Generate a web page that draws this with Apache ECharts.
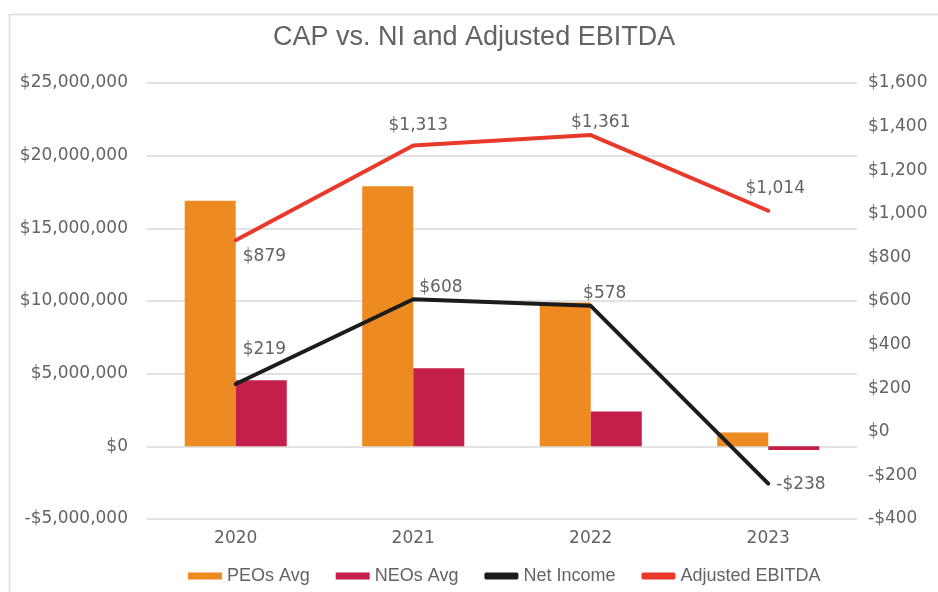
<!DOCTYPE html>
<html>
<head>
<meta charset="utf-8">
<style>
  html, body { margin: 0; padding: 0; background: #ffffff; }
  #chart { width: 938px; height: 592px; }
</style>
<script src="https://cdn.jsdelivr.net/npm/echarts@6/dist/echarts.min.js"></script>
</head>
<body>
<div id="chart"></div>
<script>
// Values.
const years = ['2020', '2021', '2022', '2023'];
const peosAvg = [16900000, 17900000, 9900000, 950000];
const neosAvg = [4550000, 5370000, 2400000, -250000];
const netIncome = [219, 608, 578, -238];
const adjEbitda = [879, 1313, 1361, 1014];

// Where each point label sits relative to its point (style only).
const niLabelPlace = [
  { position: 'right', distance: 5, offset: [1, -34] },
  { position: 'right', distance: 5, offset: [0, -12] },
  { position: 'top', distance: 3, offset: [14, 0] },
  { position: 'right', distance: 5, offset: [2, 1] },
];
const ebitdaLabelPlace = [
  { position: 'right', distance: 5, offset: [1, 16] },
  { position: 'top', distance: 10, offset: [5, 0] },
  { position: 'top', distance: 3, offset: [10, 0] },
  { position: 'top', distance: 13, offset: [7, 0] },
];

const INK = { text: '#636363', grid: '#d9d9d9' };
const COLORS = { peo: '#ee8a22', neo: '#c41e4a', ni: '#1c1c1c', ebitda: '#e8392a' };
const TITLE_FONT = '"Liberation Sans", Arial, sans-serif';
const NUM_FONT = '"DejaVu Sans", sans-serif';

function money(v) {
  return (v < 0 ? '-' : '') + '$' + Math.abs(v).toLocaleString('en-US');
}

function withLabels(values, places) {
  return values.map((v, i) => ({ value: v, label: places[i] }));
}

function barSeries(name, data, color) {
  return {
    name,
    type: 'bar',
    data,
    barGap: '0%',
    barCategoryGap: '42.5%',
    itemStyle: { color },
    emphasis: { disabled: true },
  };
}

function lineSeries(name, data, color) {
  return {
    name,
    type: 'line',
    yAxisIndex: 1,
    data,
    symbol: 'circle',
    symbolSize: 2,
    showSymbol: true,
    z: 5,
    lineStyle: { width: 4, color, cap: 'round', join: 'round' },
    itemStyle: { color },
    label: {
      show: true,
      fontFamily: NUM_FONT,
      fontSize: 17,
      color: INK.text,
      formatter: (p) => money(p.value),
    },
    emphasis: { disabled: true },
  };
}

const option = {
  animation: false,
  backgroundColor: '#ffffff',
  graphic: [{
    type: 'rect',
    left: 7,
    top: 12,
    shape: { width: 960, height: 620 },
    style: { fill: 'none', stroke: '#dcdcdc', lineWidth: 1.5 },
    silent: true,
  }],
  title: {
    text: 'CAP vs. NI and Adjusted EBITDA',
    left: 268,
    top: 19,
    textStyle: { fontFamily: TITLE_FONT, fontSize: 27, fontWeight: 'normal', color: INK.text },
  },
  legend: {
    bottom: 2,
    left: 183,
    itemWidth: 34,
    itemHeight: 7,
    itemGap: 26,
    textStyle: { fontFamily: TITLE_FONT, fontSize: 18, color: INK.text },
    data: [
      { name: 'PEOs Avg', icon: 'rect' },
      { name: 'NEOs Avg', icon: 'rect' },
      { name: 'Net Income', icon: 'roundRect' },
      { name: 'Adjusted EBITDA', icon: 'roundRect' },
    ],
  },
  grid: { left: 147, right: 81, top: 83, bottom: 73, containLabel: false },
  xAxis: {
    type: 'category',
    data: years,
    axisLine: { show: false },
    axisTick: { show: false },
    axisLabel: { fontFamily: NUM_FONT, fontSize: 17, color: INK.text, margin: 11 },
  },
  yAxis: [
    {
      type: 'value',
      min: -5000000,
      max: 25000000,
      interval: 5000000,
      axisLine: { show: false },
      axisTick: { show: false },
      axisLabel: { fontFamily: NUM_FONT, fontSize: 17, color: INK.text, margin: 19, formatter: money },
      splitLine: { lineStyle: { color: INK.grid, width: 1.5 } },
    },
    {
      type: 'value',
      min: -400,
      max: 1600,
      interval: 200,
      axisLine: { show: false },
      axisTick: { show: false },
      axisLabel: { fontFamily: NUM_FONT, fontSize: 17, color: INK.text, margin: 11, formatter: money },
      splitLine: { show: false },
    },
  ],
  series: [
    barSeries('PEOs Avg', peosAvg, COLORS.peo),
    barSeries('NEOs Avg', neosAvg, COLORS.neo),
    lineSeries('Net Income', withLabels(netIncome, niLabelPlace), COLORS.ni),
    lineSeries('Adjusted EBITDA', withLabels(adjEbitda, ebitdaLabelPlace), COLORS.ebitda),
  ],
};

const chart = echarts.init(document.getElementById('chart'), null, { renderer: 'canvas' });
chart.setOption(option);
</script>
</body>
</html>
